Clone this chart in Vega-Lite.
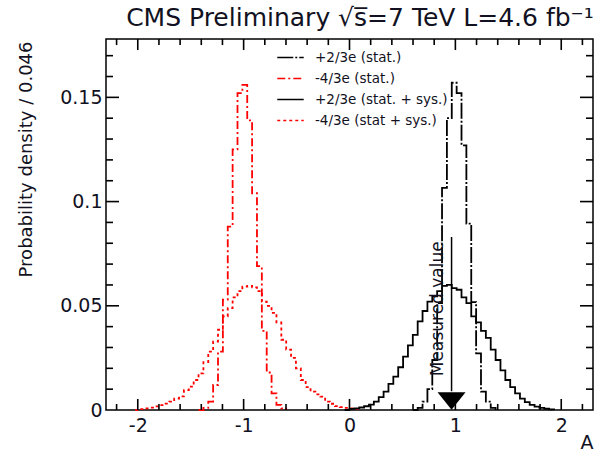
{
"$schema": "https://vega.github.io/schema/vega-lite/v6.json",
"width": 487, "height": 371,
"autosize": {"type": "none"},
"padding": {"left": 106, "top": 39, "right": 12, "bottom": 42},
"background": "white",
"config": {
  "view": {"stroke": "black", "strokeWidth": 1.5},
  "font": "DejaVu Sans",
  "axis": {"domain": false, "grid": false, "ticks": false, "labelColor": "#111122", "titleColor": "#111122", "labelFont": "DejaVu Sans", "titleFont": "DejaVu Sans"},
  "legend": {"orient": "none", "legendX": 170, "legendY": 4, "symbolType": "stroke", "symbolSize": 700, "symbolStrokeWidth": 1.6, "labelFontSize": 13.5, "labelFont": "DejaVu Sans", "labelColor": "#111122", "labelOffset": 10, "rowPadding": -5, "padding": 0}
},
"title": {"text": "CMS Preliminary √s̅=7 TeV  L=4.6 fb⁻¹", "anchor": "end", "fontSize": 25, "font": "DejaVu Sans", "fontWeight": "normal", "color": "#111122", "offset": 7},
"datasets": {
  "xt": [
    {"v": -2.2, "k": "minor"}, {"v": -2, "k": "major"}, {"v": -1.8, "k": "minor"}, {"v": -1.6, "k": "minor"}, {"v": -1.4, "k": "minor"}, {"v": -1.2, "k": "minor"},
    {"v": -1, "k": "major"}, {"v": -0.8, "k": "minor"}, {"v": -0.6, "k": "minor"}, {"v": -0.4, "k": "minor"}, {"v": -0.2, "k": "minor"},
    {"v": 0, "k": "major"}, {"v": 0.2, "k": "minor"}, {"v": 0.4, "k": "minor"}, {"v": 0.6, "k": "minor"}, {"v": 0.8, "k": "minor"},
    {"v": 1, "k": "major"}, {"v": 1.2, "k": "minor"}, {"v": 1.4, "k": "minor"}, {"v": 1.6, "k": "minor"}, {"v": 1.8, "k": "minor"},
    {"v": 2, "k": "major"}, {"v": 2.2, "k": "minor"}
  ],
  "yt": [
    {"v": 0.01, "k": "minor"}, {"v": 0.02, "k": "minor"}, {"v": 0.03, "k": "minor"}, {"v": 0.04, "k": "minor"},
    {"v": 0.05, "k": "major"}, {"v": 0.06, "k": "minor"}, {"v": 0.07, "k": "minor"}, {"v": 0.08, "k": "minor"}, {"v": 0.09, "k": "minor"},
    {"v": 0.1, "k": "major"}, {"v": 0.11, "k": "minor"}, {"v": 0.12, "k": "minor"}, {"v": 0.13, "k": "minor"}, {"v": 0.14, "k": "minor"},
    {"v": 0.15, "k": "major"}, {"v": 0.16, "k": "minor"}, {"v": 0.17, "k": "minor"}
  ],
  "h": [
    {"s": "-4/3e (stat.)", "a": -1.426, "p": 0},
    {"s": "-4/3e (stat.)", "a": -1.38, "p": 0.001},
    {"s": "-4/3e (stat.)", "a": -1.334, "p": 0.004},
    {"s": "-4/3e (stat.)", "a": -1.288, "p": 0.012},
    {"s": "-4/3e (stat.)", "a": -1.242, "p": 0.028},
    {"s": "-4/3e (stat.)", "a": -1.196, "p": 0.053},
    {"s": "-4/3e (stat.)", "a": -1.15, "p": 0.088},
    {"s": "-4/3e (stat.)", "a": -1.104, "p": 0.125},
    {"s": "-4/3e (stat.)", "a": -1.058, "p": 0.152},
    {"s": "-4/3e (stat.)", "a": -1.012, "p": 0.156},
    {"s": "-4/3e (stat.)", "a": -0.966, "p": 0.139},
    {"s": "-4/3e (stat.)", "a": -0.92, "p": 0.104},
    {"s": "-4/3e (stat.)", "a": -0.874, "p": 0.069},
    {"s": "-4/3e (stat.)", "a": -0.828, "p": 0.038},
    {"s": "-4/3e (stat.)", "a": -0.782, "p": 0.018},
    {"s": "-4/3e (stat.)", "a": -0.736, "p": 0.008},
    {"s": "-4/3e (stat.)", "a": -0.69, "p": 0.0025},
    {"s": "-4/3e (stat.)", "a": -0.644, "p": 0.0008},
    {"s": "-4/3e (stat.)", "a": -0.598, "p": 0},
    {"s": "-4/3e (stat + sys.)", "a": -2.024, "p": 0},
    {"s": "-4/3e (stat + sys.)", "a": -1.978, "p": 0.0004},
    {"s": "-4/3e (stat + sys.)", "a": -1.932, "p": 0.0008},
    {"s": "-4/3e (stat + sys.)", "a": -1.886, "p": 0.0011},
    {"s": "-4/3e (stat + sys.)", "a": -1.84, "p": 0.0017},
    {"s": "-4/3e (stat + sys.)", "a": -1.794, "p": 0.0023},
    {"s": "-4/3e (stat + sys.)", "a": -1.748, "p": 0.0031},
    {"s": "-4/3e (stat + sys.)", "a": -1.702, "p": 0.004},
    {"s": "-4/3e (stat + sys.)", "a": -1.656, "p": 0.0055},
    {"s": "-4/3e (stat + sys.)", "a": -1.61, "p": 0.0065},
    {"s": "-4/3e (stat + sys.)", "a": -1.564, "p": 0.0095},
    {"s": "-4/3e (stat + sys.)", "a": -1.518, "p": 0.0112},
    {"s": "-4/3e (stat + sys.)", "a": -1.472, "p": 0.0144},
    {"s": "-4/3e (stat + sys.)", "a": -1.426, "p": 0.0176},
    {"s": "-4/3e (stat + sys.)", "a": -1.38, "p": 0.023},
    {"s": "-4/3e (stat + sys.)", "a": -1.334, "p": 0.028},
    {"s": "-4/3e (stat + sys.)", "a": -1.288, "p": 0.0328},
    {"s": "-4/3e (stat + sys.)", "a": -1.242, "p": 0.0385},
    {"s": "-4/3e (stat + sys.)", "a": -1.196, "p": 0.0449},
    {"s": "-4/3e (stat + sys.)", "a": -1.15, "p": 0.0489},
    {"s": "-4/3e (stat + sys.)", "a": -1.104, "p": 0.054},
    {"s": "-4/3e (stat + sys.)", "a": -1.058, "p": 0.057},
    {"s": "-4/3e (stat + sys.)", "a": -1.012, "p": 0.0592},
    {"s": "-4/3e (stat + sys.)", "a": -0.966, "p": 0.0596},
    {"s": "-4/3e (stat + sys.)", "a": -0.92, "p": 0.0588},
    {"s": "-4/3e (stat + sys.)", "a": -0.874, "p": 0.057},
    {"s": "-4/3e (stat + sys.)", "a": -0.828, "p": 0.052},
    {"s": "-4/3e (stat + sys.)", "a": -0.782, "p": 0.05},
    {"s": "-4/3e (stat + sys.)", "a": -0.736, "p": 0.0466},
    {"s": "-4/3e (stat + sys.)", "a": -0.69, "p": 0.042},
    {"s": "-4/3e (stat + sys.)", "a": -0.644, "p": 0.0337},
    {"s": "-4/3e (stat + sys.)", "a": -0.598, "p": 0.029},
    {"s": "-4/3e (stat + sys.)", "a": -0.552, "p": 0.025},
    {"s": "-4/3e (stat + sys.)", "a": -0.506, "p": 0.02},
    {"s": "-4/3e (stat + sys.)", "a": -0.46, "p": 0.0144},
    {"s": "-4/3e (stat + sys.)", "a": -0.414, "p": 0.011},
    {"s": "-4/3e (stat + sys.)", "a": -0.368, "p": 0.0088},
    {"s": "-4/3e (stat + sys.)", "a": -0.322, "p": 0.0075},
    {"s": "-4/3e (stat + sys.)", "a": -0.276, "p": 0.0064},
    {"s": "-4/3e (stat + sys.)", "a": -0.23, "p": 0.004},
    {"s": "-4/3e (stat + sys.)", "a": -0.184, "p": 0.003},
    {"s": "-4/3e (stat + sys.)", "a": -0.138, "p": 0.0019},
    {"s": "-4/3e (stat + sys.)", "a": -0.092, "p": 0.0014},
    {"s": "-4/3e (stat + sys.)", "a": -0.046, "p": 0.001},
    {"s": "-4/3e (stat + sys.)", "a": 0, "p": 0.0008},
    {"s": "-4/3e (stat + sys.)", "a": 0.046, "p": 0.0005},
    {"s": "-4/3e (stat + sys.)", "a": 0.092, "p": 0},
    {"s": "+2/3e (stat.)", "a": 0.598, "p": 0},
    {"s": "+2/3e (stat.)", "a": 0.644, "p": 0.001},
    {"s": "+2/3e (stat.)", "a": 0.69, "p": 0.004},
    {"s": "+2/3e (stat.)", "a": 0.736, "p": 0.01},
    {"s": "+2/3e (stat.)", "a": 0.782, "p": 0.024},
    {"s": "+2/3e (stat.)", "a": 0.828, "p": 0.0513},
    {"s": "+2/3e (stat.)", "a": 0.874, "p": 0.1066},
    {"s": "+2/3e (stat.)", "a": 0.92, "p": 0.14},
    {"s": "+2/3e (stat.)", "a": 0.966, "p": 0.157},
    {"s": "+2/3e (stat.)", "a": 1.012, "p": 0.152},
    {"s": "+2/3e (stat.)", "a": 1.058, "p": 0.127},
    {"s": "+2/3e (stat.)", "a": 1.104, "p": 0.0894},
    {"s": "+2/3e (stat.)", "a": 1.15, "p": 0.0518},
    {"s": "+2/3e (stat.)", "a": 1.196, "p": 0.0272},
    {"s": "+2/3e (stat.)", "a": 1.242, "p": 0.0088},
    {"s": "+2/3e (stat.)", "a": 1.288, "p": 0.004},
    {"s": "+2/3e (stat.)", "a": 1.334, "p": 0.001},
    {"s": "+2/3e (stat.)", "a": 1.38, "p": 0},
    {"s": "+2/3e (stat. + sys.)", "a": -0.046, "p": 0},
    {"s": "+2/3e (stat. + sys.)", "a": 0, "p": 0.0005},
    {"s": "+2/3e (stat. + sys.)", "a": 0.046, "p": 0.0008},
    {"s": "+2/3e (stat. + sys.)", "a": 0.092, "p": 0.0012},
    {"s": "+2/3e (stat. + sys.)", "a": 0.138, "p": 0.0018},
    {"s": "+2/3e (stat. + sys.)", "a": 0.184, "p": 0.0026},
    {"s": "+2/3e (stat. + sys.)", "a": 0.23, "p": 0.004},
    {"s": "+2/3e (stat. + sys.)", "a": 0.276, "p": 0.0062},
    {"s": "+2/3e (stat. + sys.)", "a": 0.322, "p": 0.0088},
    {"s": "+2/3e (stat. + sys.)", "a": 0.368, "p": 0.0125},
    {"s": "+2/3e (stat. + sys.)", "a": 0.414, "p": 0.016},
    {"s": "+2/3e (stat. + sys.)", "a": 0.46, "p": 0.0205},
    {"s": "+2/3e (stat. + sys.)", "a": 0.506, "p": 0.0256},
    {"s": "+2/3e (stat. + sys.)", "a": 0.552, "p": 0.031},
    {"s": "+2/3e (stat. + sys.)", "a": 0.598, "p": 0.036},
    {"s": "+2/3e (stat. + sys.)", "a": 0.644, "p": 0.0425},
    {"s": "+2/3e (stat. + sys.)", "a": 0.69, "p": 0.0475},
    {"s": "+2/3e (stat. + sys.)", "a": 0.736, "p": 0.052},
    {"s": "+2/3e (stat. + sys.)", "a": 0.782, "p": 0.0545},
    {"s": "+2/3e (stat. + sys.)", "a": 0.828, "p": 0.057},
    {"s": "+2/3e (stat. + sys.)", "a": 0.874, "p": 0.0596},
    {"s": "+2/3e (stat. + sys.)", "a": 0.92, "p": 0.06},
    {"s": "+2/3e (stat. + sys.)", "a": 0.966, "p": 0.0585},
    {"s": "+2/3e (stat. + sys.)", "a": 1.012, "p": 0.0577},
    {"s": "+2/3e (stat. + sys.)", "a": 1.058, "p": 0.054},
    {"s": "+2/3e (stat. + sys.)", "a": 1.104, "p": 0.0513},
    {"s": "+2/3e (stat. + sys.)", "a": 1.15, "p": 0.0449},
    {"s": "+2/3e (stat. + sys.)", "a": 1.196, "p": 0.042},
    {"s": "+2/3e (stat. + sys.)", "a": 1.242, "p": 0.038},
    {"s": "+2/3e (stat. + sys.)", "a": 1.288, "p": 0.0346},
    {"s": "+2/3e (stat. + sys.)", "a": 1.334, "p": 0.029},
    {"s": "+2/3e (stat. + sys.)", "a": 1.38, "p": 0.024},
    {"s": "+2/3e (stat. + sys.)", "a": 1.426, "p": 0.019},
    {"s": "+2/3e (stat. + sys.)", "a": 1.472, "p": 0.0144},
    {"s": "+2/3e (stat. + sys.)", "a": 1.518, "p": 0.011},
    {"s": "+2/3e (stat. + sys.)", "a": 1.564, "p": 0.008},
    {"s": "+2/3e (stat. + sys.)", "a": 1.61, "p": 0.0055},
    {"s": "+2/3e (stat. + sys.)", "a": 1.656, "p": 0.0038},
    {"s": "+2/3e (stat. + sys.)", "a": 1.702, "p": 0.0025},
    {"s": "+2/3e (stat. + sys.)", "a": 1.748, "p": 0.0016},
    {"s": "+2/3e (stat. + sys.)", "a": 1.794, "p": 0.001},
    {"s": "+2/3e (stat. + sys.)", "a": 1.84, "p": 0.0006},
    {"s": "+2/3e (stat. + sys.)", "a": 1.886, "p": 0.0003},
    {"s": "+2/3e (stat. + sys.)", "a": 1.932, "p": 0}
  ]
},
"layer": [
  {
    "data": {"name": "h"},
    "mark": {"type": "line", "interpolate": "step-after", "strokeWidth": 1.8},
    "encoding": {
      "x": {"field": "a", "type": "quantitative", "scale": {"domain": [-2.3, 2.3], "nice": false, "zero": false},
        "axis": {"orient": "bottom", "values": [-2, -1, 0, 1, 2], "labelExpr": "datum.value < 0 ? '-' + abs(datum.value) : '' + datum.value", "labelFontSize": 19, "labelPadding": 6, "title": "A", "titleFontSize": 19, "titleFontWeight": "normal", "titleAnchor": "end", "titleAlign": "right", "titleBaseline": "alphabetic", "titleX": 487, "titleY": 38}},
      "y": {"field": "p", "type": "quantitative", "scale": {"domain": [0, 0.178], "nice": false, "zero": false},
        "axis": {"orient": "left", "values": [0, 0.05, 0.1, 0.15], "labelExpr": "'' + datum.value", "labelFontSize": 19, "labelPadding": 4, "title": "Probability density / 0.046", "titleFontSize": 18, "titleFontWeight": "normal", "titleAngle": -90, "titleAnchor": "end", "titleAlign": "right", "titleBaseline": "middle", "titleX": -80, "titleY": 2}},
      "color": {"field": "s", "type": "nominal", "scale": {"domain": ["+2/3e (stat.)", "-4/3e (stat.)", "+2/3e (stat. + sys.)", "-4/3e (stat + sys.)"], "range": ["#000000", "#ff0000", "#000000", "#ff0000"]}, "legend": {"title": null}},
      "strokeDash": {"field": "s", "type": "nominal", "scale": {"domain": ["+2/3e (stat.)", "-4/3e (stat.)", "+2/3e (stat. + sys.)", "-4/3e (stat + sys.)"], "range": [[16, 2, 2, 2], [8, 3, 2, 3], [1, 0], [3, 3]]}, "legend": {"title": null}}
    }
  },
  {
    "data": {"name": "xt"},
    "transform": [{"filter": "datum.k == 'major'"}],
    "mark": {"type": "rule", "color": "black", "strokeWidth": 1.6},
    "encoding": {"x": {"field": "v", "type": "quantitative"}, "y": {"datum": 0, "type": "quantitative"}, "y2": {"datum": 0.0053}}
  },
  {
    "data": {"name": "xt"},
    "transform": [{"filter": "datum.k == 'minor'"}],
    "mark": {"type": "rule", "color": "black", "strokeWidth": 1.6},
    "encoding": {"x": {"field": "v", "type": "quantitative"}, "y": {"datum": 0, "type": "quantitative"}, "y2": {"datum": 0.0029}}
  },
  {
    "data": {"name": "xt"},
    "transform": [{"filter": "datum.k == 'major'"}],
    "mark": {"type": "rule", "color": "black", "strokeWidth": 1.6},
    "encoding": {"x": {"field": "v", "type": "quantitative"}, "y": {"datum": 0.178, "type": "quantitative"}, "y2": {"datum": 0.1727}}
  },
  {
    "data": {"name": "xt"},
    "transform": [{"filter": "datum.k == 'minor'"}],
    "mark": {"type": "rule", "color": "black", "strokeWidth": 1.6},
    "encoding": {"x": {"field": "v", "type": "quantitative"}, "y": {"datum": 0.178, "type": "quantitative"}, "y2": {"datum": 0.1751}}
  },
  {
    "data": {"name": "yt"},
    "transform": [{"filter": "datum.k == 'major'"}],
    "mark": {"type": "rule", "color": "black", "strokeWidth": 1.6},
    "encoding": {"y": {"field": "v", "type": "quantitative"}, "x": {"datum": -2.3, "type": "quantitative"}, "x2": {"datum": -2.177}}
  },
  {
    "data": {"name": "yt"},
    "transform": [{"filter": "datum.k == 'minor'"}],
    "mark": {"type": "rule", "color": "black", "strokeWidth": 1.6},
    "encoding": {"y": {"field": "v", "type": "quantitative"}, "x": {"datum": -2.3, "type": "quantitative"}, "x2": {"datum": -2.234}}
  },
  {
    "data": {"name": "yt"},
    "transform": [{"filter": "datum.k == 'major'"}],
    "mark": {"type": "rule", "color": "black", "strokeWidth": 1.6},
    "encoding": {"y": {"field": "v", "type": "quantitative"}, "x": {"datum": 2.3, "type": "quantitative"}, "x2": {"datum": 2.177}}
  },
  {
    "data": {"name": "yt"},
    "transform": [{"filter": "datum.k == 'minor'"}],
    "mark": {"type": "rule", "color": "black", "strokeWidth": 1.6},
    "encoding": {"y": {"field": "v", "type": "quantitative"}, "x": {"datum": 2.3, "type": "quantitative"}, "x2": {"datum": 2.234}}
  },
  {
    "data": {"values": [{"a": 0.964, "p1": 0.083, "p2": 0.009}]},
    "mark": {"type": "rule", "color": "black", "strokeWidth": 1.5},
    "encoding": {
      "x": {"field": "a", "type": "quantitative"},
      "y": {"field": "p1", "type": "quantitative"},
      "y2": {"field": "p2"}
    }
  },
  {
    "data": {"values": [{"a": 0.964, "p": 0.0043}]},
    "mark": {"type": "point", "shape": "M -1 -0.62 L 1 -0.62 L 0 0.62 Z", "filled": true, "color": "black", "opacity": 1, "size": 784},
    "encoding": {
      "x": {"field": "a", "type": "quantitative"},
      "y": {"field": "p", "type": "quantitative"}
    }
  },
  {
    "data": {"values": [{"a": 0.84, "p": 0.0486, "t": "Measured value"}]},
    "mark": {"type": "text", "angle": 270, "fontSize": 17, "font": "DejaVu Sans", "color": "#111122", "align": "center", "baseline": "middle"},
    "encoding": {
      "x": {"field": "a", "type": "quantitative"},
      "y": {"field": "p", "type": "quantitative"},
      "text": {"field": "t"}
    }
  }
]
}
